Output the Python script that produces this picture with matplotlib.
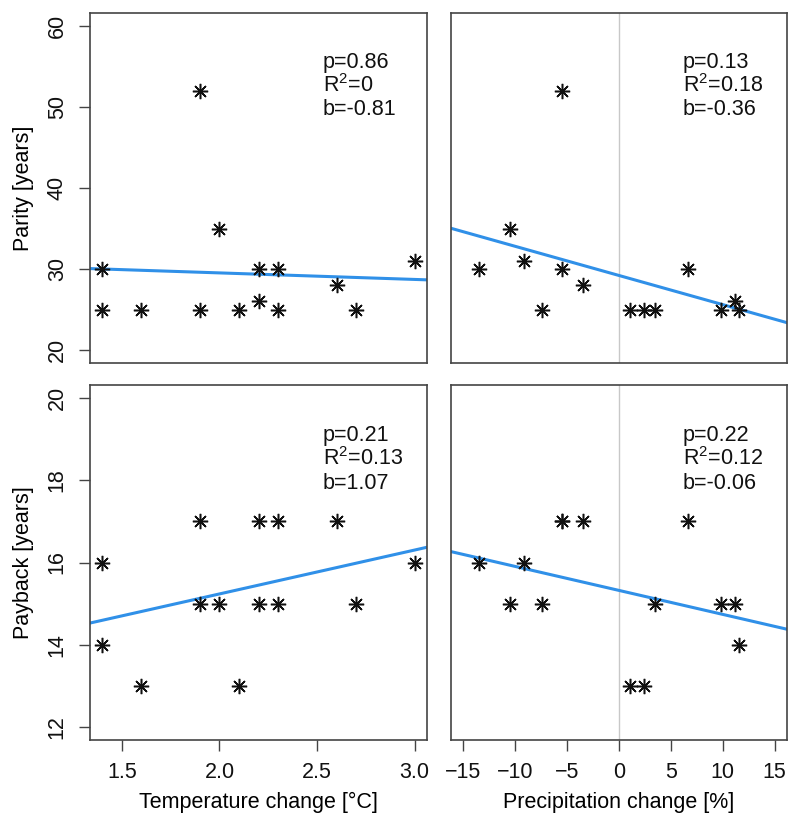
import numpy as np
import matplotlib
matplotlib.use("Agg")
import matplotlib.pyplot as plt

plt.rcParams['font.family'] = ['Liberation Sans', 'DejaVu Sans']
plt.rcParams['mathtext.fontset'] = 'custom'
plt.rcParams['mathtext.rm'] = 'Liberation Sans'

# Site data (14 sites)
temperature = [1.4, 1.4, 1.6, 1.9, 1.9, 2.0, 2.1, 2.2, 2.2, 2.3, 2.3, 2.6, 2.7, 3.0]
precipitation = [-13.5, 11.6, 1.06, -5.5, -7.4, -10.5, 2.4, -5.5, 11.2, 6.7, 3.5, -3.45, 9.8, -9.2]
parity = [30, 25, 25, 52, 25, 35, 25, 30, 26, 30, 25, 28, 25, 31]
payback = [16, 14, 13, 17, 15, 15, 13, 17, 15, 17, 15, 17, 15, 16]

stats_parity_temp = ["p=0.86", r"R$^{2}$=0", "b=-0.81"]
stats_parity_prec = ["p=0.13", r"R$^{2}$=0.18", "b=-0.36"]
stats_payback_temp = ["p=0.21", r"R$^{2}$=0.13", "b=1.07"]
stats_payback_prec = ["p=0.22", r"R$^{2}$=0.12", "b=-0.06"]

temp_ticks = [1.5, 2.0, 2.5, 3.0]
prec_ticks = [-15, -10, -5, 0, 5, 10, 15]
parity_ticks = [20, 30, 40, 50, 60]
payback_ticks = [12, 14, 16, 18, 20]

FS = 15.5
BLUE = '#3090E8'
BOX = '#444444'

fig = plt.figure(figsize=(8, 8.23), dpi=100)
W, H = 800, 823

def add_ax(x0, y0, x1, y1):
    return fig.add_axes([x0 / W, 1 - y1 / H, (x1 - x0) / W, (y1 - y0) / H])

ax_tl = add_ax(90, 13, 427, 363)
ax_tr = add_ax(451, 13, 787, 363)
ax_bl = add_ax(90, 385, 427, 740)
ax_br = add_ax(451, 385, 787, 740)

def rlim(lo, hi):
    d = (hi - lo) * 0.04
    return lo - d, hi + d

panels = [
    (ax_tl, temperature, parity, stats_parity_temp, (1.4, 3.0), (20, 60)),
    (ax_tr, precipitation, parity, stats_parity_prec, (-15, 15), (20, 60)),
    (ax_bl, temperature, payback, stats_payback_temp, (1.4, 3.0), (12, 20)),
    (ax_br, precipitation, payback, stats_payback_prec, (-15, 15), (12, 20)),
]

for ax, x, y, stats, xl, yl in panels:
    ax.set_xlim(*rlim(*xl))
    ax.set_ylim(*rlim(*yl))
    if ax in (ax_tr, ax_br):
        ax.axvline(0, color='#c8c8c8', lw=1.0, zorder=1)
    b, a = np.polyfit(x, y, 1)
    ax.axline((0, a), slope=b, color=BLUE, lw=2.2, zorder=2)
    ax.plot(x, y, linestyle='none', marker=(8, 2, 0), markersize=11,
            markeredgewidth=1.1, color='#111111', zorder=3)
    for i, s in enumerate(stats):
        ax.text(0.69, 0.842 - i * 0.067, s, transform=ax.transAxes,
                fontsize=FS, ha='left', va='baseline', color='#111111')
    for sp in ax.spines.values():
        sp.set_color(BOX)
        sp.set_linewidth(1.2)
    ax.tick_params(colors=BOX, labelcolor='#111111', length=8, width=1.0,
                   labelsize=FS)

for ax in (ax_tr, ax_br):
    ax.set_yticks([])
for ax in (ax_tl, ax_tr):
    ax.set_xticks([])

ax_tl.set_yticks(parity_ticks)
ax_bl.set_yticks(payback_ticks)
for ax in (ax_tl, ax_bl):
    ax.tick_params(axis='y', labelrotation=90, pad=8)
    for lab in ax.get_yticklabels():
        lab.set_va('center')

ax_bl.set_xticks(temp_ticks)
ax_bl.set_xticklabels([f"{t:.1f}" for t in temp_ticks])
ax_br.set_xticks(prec_ticks)
ax_br.set_xticklabels([str(t).replace('-', '\u2212') for t in prec_ticks])
for ax in (ax_bl, ax_br):
    ax.tick_params(axis='x', pad=8)

ax_tl.set_ylabel("Parity [years]", fontsize=FS, labelpad=9)
ax_bl.set_ylabel("Payback [years]", fontsize=FS, labelpad=9)
ax_bl.set_xlabel("Temperature change [°C]", fontsize=FS, labelpad=6)
ax_br.set_xlabel("Precipitation change [%]", fontsize=FS, labelpad=6)

fig.savefig("out.png", dpi=100, facecolor='white')
